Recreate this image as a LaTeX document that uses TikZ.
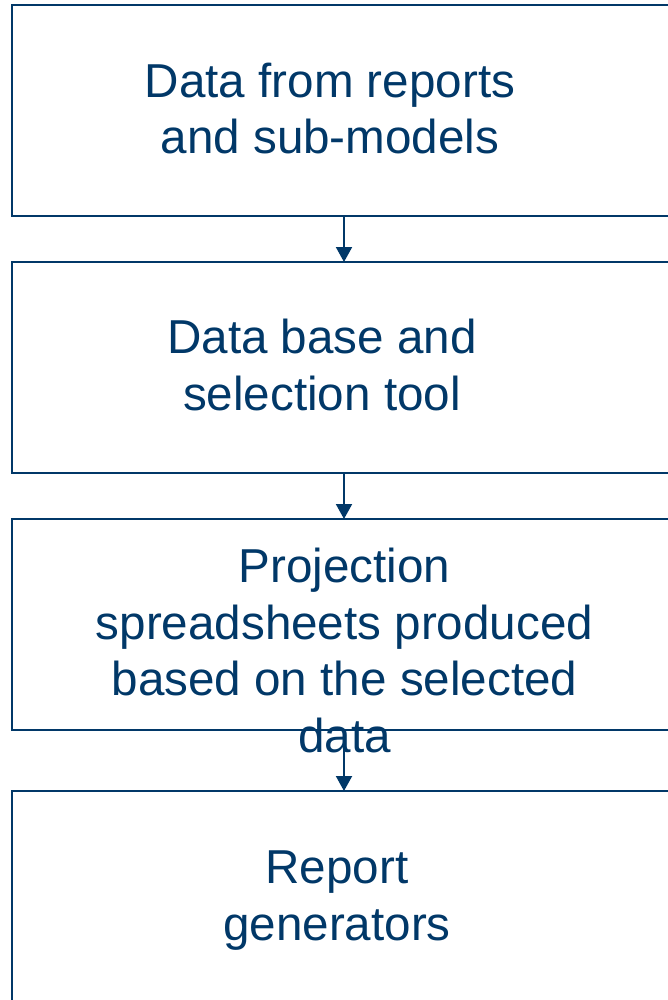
\documentclass[tikz,border=0pt]{standalone}
\usepackage{fontspec}
\setmainfont{Liberation Sans}
\usetikzlibrary{arrows.meta}
\definecolor{navy}{RGB}{1,56,104}
\begin{document}
\begin{tikzpicture}[x=0.5pt,y=-0.5pt,
  box/.style={draw=navy, line width=1.25pt, minimum width=332pt, minimum height=105.5pt, inner sep=0pt, outer sep=0pt},
  lbl/.style={text=navy, align=center, inner sep=0pt, font=\fontsize{23.8pt}{28.25pt}\selectfont},
  conn/.style={draw=navy, line width=1pt, -{Triangle[width=8pt,length=7.5pt]}}]
\useasboundingbox (0,0) rectangle (668,1000);
\clip (0,0) rectangle (668,1000);
\node[box] (b1) at (344,110.5) {};
\node[box] (b2) at (344,367.5) {};
\node[box] (b3) at (344,624.5) {};
\node[box] (b4) at (344,896.5) {};
\draw[conn] (b1.south) -- (b2.north);
\draw[conn] (b2.south) -- (b3.north);
\draw[conn] (b3.south) -- (b4.north);
\node[lbl] (t1) at (330,108.5) {Data from reports\\and sub-models};
\node[lbl] (t2) at (322,365) {Data base and\\selection tool};
\node[lbl] (t3) at (344.5,650.5) {Projection\\spreadsheets produced\\based on the selected\\data};
\node[lbl] (t4) at (337,900.5) {Report\\generators};
\end{tikzpicture}
\end{document}
